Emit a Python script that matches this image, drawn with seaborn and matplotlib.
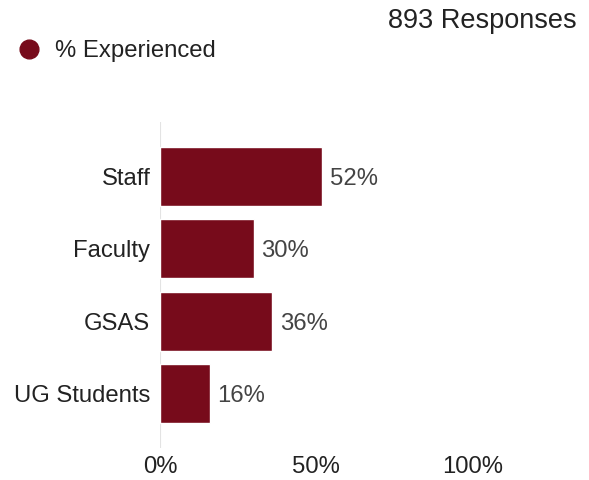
import matplotlib
matplotlib.use("Agg")
import matplotlib.pyplot as plt
from matplotlib.lines import Line2D
import seaborn as sns
import pandas as pd

groups = ["Staff", "Faculty", "GSAS", "UG Students"]
experienced = [52, 30, 36, 16]
x_ticks = [0, 50, 100]
x_tick_labels = ["0%", "50%", "100%"]
series_name = "% Experienced"
responses_text = "893 Responses"

bar_color = "#770b1b"
text_color = "#222222"
value_color = "#444444"
fs = 17.2

sns.set_theme(style="white")
plt.rcParams["font.family"] = ["Liberation Sans", "DejaVu Sans"]

df = pd.DataFrame({"group": groups, "pct": experienced})

W, H = 589, 480
fig = plt.figure(figsize=(W / 100, H / 100), dpi=100)
ax = fig.add_axes([160 / W, 1 - 448 / H, (566 - 160) / W, (448 - 122) / H])

sns.barplot(data=df, x="pct", y="group", orient="h", color=bar_color,
            saturation=1, width=0.82, ax=ax)

ax.set_xlim(0, 130)
ax.set_ylim(3.75, -0.75)
for s in ax.spines.values():
    s.set_visible(False)
ax.axvline(0, color="#e3e3e3", lw=1.5, zorder=0)

ax.set_xlabel("")
ax.set_ylabel("")
ax.set_xticks(x_ticks)
ax.set_xticklabels(x_tick_labels, fontsize=fs, color=text_color)
ax.tick_params(axis="x", length=0, pad=6)
ax.tick_params(axis="y", length=0, pad=7, labelsize=fs, labelcolor=text_color)

for i, v in enumerate(experienced):
    ax.text(v + 2.3, i, f"{v}%", va="center_baseline", ha="left",
            fontsize=fs, color=value_color)

handle = Line2D([], [], marker="o", linestyle="", markersize=13.5,
                markerfacecolor=bar_color, markeredgecolor=bar_color)
fig.legend([handle], [series_name], loc="center left",
           bbox_to_anchor=(17 / W, 1 - 51.5 / H), frameon=False,
           fontsize=fs, handlelength=1.0, handletextpad=0.6,
           borderaxespad=0, borderpad=0, labelcolor=text_color)

fig.text(577 / W, 1 - 21 / H, responses_text, ha="right", va="center",
         fontsize=19.5, color=text_color)

fig.savefig("out.png", dpi=100, facecolor="white")
